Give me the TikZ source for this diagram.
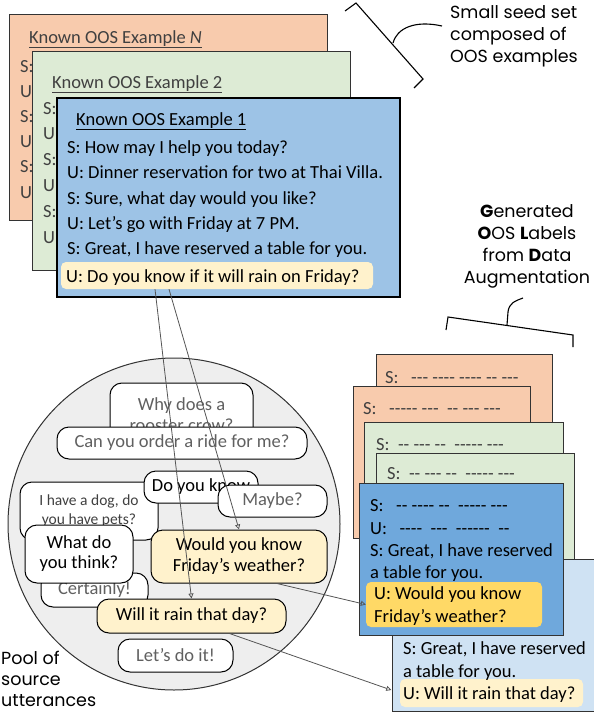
\documentclass[tikz,border=0pt]{standalone}
\usepackage{fontspec}
\setmainfont{Carlito}[Ligatures=TeXOff]
\newfontfamily\annfont{Poppins}
\usetikzlibrary{arrows.meta}
\definecolor{cardor}{HTML}{F8CBAD}
\definecolor{cardgr}{HTML}{DDEBD5}
\definecolor{cardbl}{HTML}{9DC3E6}
\definecolor{carddb}{HTML}{6FA8DC}
\definecolor{cardlb}{HTML}{CFE2F3}
\definecolor{hlpale}{HTML}{FFF2CC}
\definecolor{hlgold}{HTML}{FFD966}
\definecolor{poolbg}{HTML}{EEEEEE}
\definecolor{figline}{HTML}{333333}
\definecolor{figtext}{HTML}{404040}
\definecolor{figgray}{HTML}{606060}
\definecolor{figarrow}{HTML}{555555}
\tikzset{
  card/.style  ={draw=figline, line width=0.9pt},
  cardb/.style ={draw=black, line width=2.4pt},
  txt/.style   ={font=\fontsize{18.5}{22}\selectfont, anchor=base west, inner sep=0pt},
  hl/.style    ={rounded corners=5pt, inner sep=0pt},
  bub/.style   ={draw=black, line width=1pt, rounded corners=12pt, fill=white, inner sep=0pt,
                 align=center, font=\fontsize{18.5}{21}\selectfont},
  ann/.style   ={font=\annfont\fontsize{17.5}{22}\selectfont, inner sep=0pt},
  brk/.style   ={draw=black, line width=1.1pt},
  ptr/.style   ={draw=figarrow, line width=0.8pt, -{Triangle[open,length=5pt,width=5pt]}},
}

\begin{document}
\begin{tikzpicture}[x=1pt,y=-1pt]
  \useasboundingbox (0,0) rectangle (594,712);

  % seed set of known OOS dialogues
  \draw[card,fill=cardor] (9,14) rectangle (327,220);
  \node[txt,text=figtext] (tN) at (29,43) {\underline{Known OOS Example \textit{N}}};
  \node[txt,text=figtext] (n1) at (20,72) {S:};
  \node[txt,text=figtext] (n2) at (20,97.2) {U:};
  \node[txt,text=figtext] (n3) at (20,122.4) {S:};
  \node[txt,text=figtext] (n4) at (20,147.6) {U:};
  \node[txt,text=figtext] (n5) at (20,172.8) {S:};
  \node[txt,text=figtext] (n6) at (20,198) {U:};
  \draw[card,fill=cardgr] (32,51) rectangle (350,270);
  \node[txt,text=figtext] (t2) at (52,88) {\underline{Known OOS Example 2}};
  \node[txt,text=figtext] (m1) at (43,114) {S:};
  \node[txt,text=figtext] (m2) at (43,139.8) {U:};
  \node[txt,text=figtext] (m3) at (43,165.6) {S:};
  \node[txt,text=figtext] (m4) at (43,191.4) {U:};
  \node[txt,text=figtext] (m5) at (43,217.2) {S:};
  \node[txt,text=figtext] (m6) at (43,243) {U:};
  \draw[cardb,fill=cardbl] (57,98) rectangle (400,297);
  \node[hl,fill=hlpale,minimum width=312pt,minimum height=27pt] (hl1) at (217,275.5) {};
  \node[txt] (t1) at (76,125) {\underline{Known OOS Example 1}};
  \node[txt] (k1) at (67,153) {S: How may I help you today?};
  \node[txt] (k2) at (67,178) {U: Dinner reservation for two at Thai Villa.};
  \node[txt] (k3) at (67,204) {S: Sure, what day would you like?};
  \node[txt] (k4) at (67,229) {U: Let’s go with Friday at 7 PM.};
  \node[txt] (k5) at (67,254) {S: Great, I have reserved a table for you.};
  \node[txt] (k6) at (66,282) {U: Do you know if it will rain on Friday?};

  \draw[brk] (345,11) -- (356,3) -- (423,79) -- (414,88);
  \draw[brk] (393,43) .. controls (397,28) and (415,20) .. (442,26);
  \node[ann,anchor=north west,align=left] (seed) at (450,5) {Small seed set\\composed of\\OOS examples};

  % pool of source utterances
  \draw[draw=figline,line width=1pt,fill=poolbg] (174,524) circle (166);
  \node[bub,text=figgray,minimum width=143pt,minimum height=64pt] (why) at (181.5,415) {Why does a\\rooster crow?};
  \node[bub,text=figgray,minimum width=250pt,minimum height=32pt] (ride) at (182,443) {Can you order a ride for me?};
  \node[bub,font=\fontsize{15.5}{19}\selectfont,text=figtext,minimum width=138pt,minimum height=58pt] (dog) at (89,511) {I have a dog, do\\you have pets?};
  \node[bub,minimum width=114pt,minimum height=32pt] (doyou) at (201,487) {Do you know};
  \node[bub,text=figgray,minimum width=109pt,minimum height=32pt] (maybe) at (272.5,501) {Maybe?};
  \node[bub,text=figgray,minimum width=107pt,minimum height=34pt] (cert) at (94.5,590) {Certainly!};
  \node[bub,minimum width=108pt,minimum height=58pt,font=\fontsize{18.5}{20}\selectfont] (what) at (79,554) {What do\\you think?};
  \node[bub,fill=hlpale,minimum width=176pt,minimum height=53pt] (wfri) at (239,556.5) {Would you know\\Friday’s weather?};
  \node[bub,fill=hlpale,minimum width=189pt,minimum height=34pt] (wrain) at (191.5,616) {Will it rain that day?};
  \node[bub,text=figgray,minimum width=115pt,minimum height=33pt] (lets) at (175.5,655.5) {Let’s do it!};
  \node[ann,anchor=north west,align=left,font=\annfont\fontsize{17.5}{21}\selectfont] (pool) at (1,651) {Pool of\\source\\utterances};

  % generated OOS dialogues
  \draw[brk] (446,330) -- (448,317) -- (573,335) -- (573,347);
  \draw[brk] (507,325) -- (508,312) .. controls (509,303) and (515,301) .. (523,298);
  \node[ann,anchor=north,align=center] (gen) at (527,204) {\textbf{G}enerated\\\textbf{O}OS \textbf{L}abels\\from \textbf{D}ata\\Augmentation};

  \draw[card,fill=cardor] (376,354) rectangle (552,500);
  \node[txt,text=figtext] (ga) at (385,383) {S:\ \ \ --- ---- ---- -- ---};
  \draw[card,fill=cardor] (353,386) rectangle (530,538);
  \node[txt,text=figtext] (gb) at (363,414) {S:\ \ \ ----- ---\ \ -- --- ---};
  \draw[card,fill=cardgr] (364,422) rectangle (563,530);
  \node[txt,text=figtext] (gc) at (376,450) {S:\ \ -- --- --\ \ ----- ---};
  \draw[card,fill=cardgr] (376,453) rectangle (574,570);
  \node[txt,text=figtext] (gd) at (387,479) {S:\ \ -- --- --\ \ ----- ---};
  \draw[card,fill=cardlb] (392,559) rectangle (594,711);
  \node[hl,fill=hlpale,minimum width=183pt,minimum height=28pt] (hlC) at (491.5,693) {};
  \node[txt] (c1) at (403,654) {S: Great, I have reserved};
  \node[txt] (c2) at (403,677) {a table for you.};
  \node[txt] (c3) at (403,699) {U: Will it rain that day?};
  \draw[card,fill=carddb] (359,483) rectangle (563,635);
  \node[hl,fill=hlgold,minimum width=176pt,minimum height=45pt] (hlB) at (454,604.5) {};
  \node[txt] (b1) at (370,511) {S:\ \ \ -- ---- --\ \ ----- ---};
  \node[txt] (b2) at (370,534) {U:\ \ \ ----\ \ ---\ \ ------\ \ --};
  \node[txt] (b3) at (370,556) {S: Great, I have reserved};
  \node[txt] (b4) at (370,578) {a table for you.};
  \node[txt] (b5) at (374,599) {U: Would you know};
  \node[txt] (b6) at (374,622) {Friday’s weather?};

  % retrieval and insertion
  \draw[ptr] ([xshift=-62pt]hl1.south) -- (wrain.north);
  \draw[ptr] ([xshift=-48pt]hl1.south) -- (wfri.north);
  \draw[ptr] ([xshift=38pt]wfri.south) -- (hlB.west);
  \draw[ptr,shorten >=9pt] ([xshift=38pt]wrain.south) -- (hlC.west);
\end{tikzpicture}
\end{document}
